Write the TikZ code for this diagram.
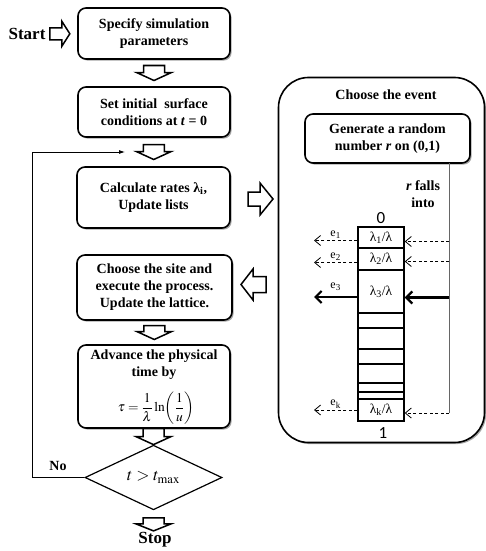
\documentclass[tikz,border=0pt]{standalone}
\usepackage{mathptmx}
\usepackage{fontspec}
\setmainfont{Liberation Serif}
\newfontfamily\calibrifont{Carlito}
\usetikzlibrary{shapes.geometric,shadows,arrows.meta,calc}
\newcommand\hollowarrow[6]{% #1 centre, #2 angle, #3 length, #4 head length, #5 shaft half width, #6 head half width
  \draw[harrow, shift={#1}, rotate=#2] ({#3/2},0) -- ({#3/2-#4},{#6}) -- ({#3/2-#4},{#5}) -- ({-#3/2},{#5})
    -- ({-#3/2},{-#5}) -- ({#3/2-#4},{-#5}) -- ({#3/2-#4},{-#6}) -- cycle;}
\begin{document}
\begin{tikzpicture}[x=1pt,y=-1pt,
  box/.style={draw, line width=1.6pt, rounded corners=8pt, fill=white,
    drop shadow={shadow xshift=1.6pt, shadow yshift=-1.6pt, opacity=0.35, fill=black},
    align=center, inner sep=0pt, font=\bfseries\fontsize{14}{17}\selectfont},
  lbl/.style={inner sep=0pt, align=center, font=\bfseries\fontsize{14}{17}\selectfont},
  harrow/.style={draw, line width=1.5pt, fill=white, line join=miter},
  cell/.style={draw, line width=1.4pt, minimum width=46pt, inner sep=0pt, font=\fontsize{13.5}{15}\selectfont},
  elbl/.style={inner sep=1.5pt, font=\fontsize{12}{14}\selectfont},
  darr/.style={line width=0.8pt, dash pattern=on 3pt off 2.5pt, -{Straight Barb[length=6pt,width=10pt,line width=0.8pt]}},
  tarr/.style={line width=2.6pt, -{Straight Barb[length=6pt,width=12pt,line width=2.2pt]}},
  vline/.style={draw=black!60, line width=1pt},
  loopline/.style={line width=0.8pt, -{Latex[length=6pt,width=4pt]}}
]
\useasboundingbox (0,0) rectangle (486,551);

% left flowchart
\node[lbl, font=\bfseries\fontsize{17}{20}\selectfont] (start) at (27,34) {Start};
\node[box, minimum width=152pt, minimum height=51pt] (b1) at (154,33.5) {Specify simulation\\parameters};
\node[box, minimum width=152pt, minimum height=50pt] (b2) at (154,112) {Set initial~ surface\\conditions at \textit{t} = 0};
\node[box, minimum width=153pt, minimum height=61pt] (b3) at (153.5,197.5) {Calculate rates λ\textsubscript{i},\\Update lists};
\node[box, minimum width=155pt, minimum height=65pt] (b4) at (154.5,287.5) {Choose the site and\\execute the process.\\Update the lattice.};
\node[box, minimum width=152pt, minimum height=83pt] (b5) at (154,386.5) {};
\node[lbl] (b5t) at (154,364.5) {Advance the physical\\time by};
\node[inner sep=0pt, font=\fontsize{13.5}{16}\selectfont] (b5f) at (156,408.5)
  {$\displaystyle \tau=\frac{1}{\lambda}\ln\!\left(\frac{1}{u}\right)$};
\node[draw, diamond, line width=1.2pt, minimum width=137pt, minimum height=59pt, inner sep=0pt] (d) at (153.5,477.5)
  {\fontsize{17}{20}\selectfont $t>t_{\max}$};
\node[lbl, font=\bfseries\fontsize{17}{20}\selectfont] (stop) at (155,540) {Stop};

% hollow arrows
\coordinate (aS) at ($(start.east)!0.45!(b1.west)$);
\coordinate (a12) at ($(b1.south)!0.5!(b2.north)$);
\coordinate (a23) at ($(b2.south)!0.5!(b3.north)$);
\coordinate (a45) at ($(b4.south)!0.5!(b5.north)$);
\coordinate (a5d) at ($(d.north)+(0,-8)$);
\coordinate (ads) at ($(d.south)+(0,14)$);
\hollowarrow{(aS)}{0}{20}{8}{6}{12.5}
\hollowarrow{(a12)}{-90}{15}{8}{10.5}{17.5}
\hollowarrow{(a23)}{-90}{15}{8}{10.5}{17.5}
\hollowarrow{(a45)}{-90}{14}{8}{10.5}{17.5}
\hollowarrow{(a5d)}{-90}{16}{8}{10.5}{17.5}
\hollowarrow{(ads)}{-90}{13}{7}{10.5}{17.5}

% loop back
\coordinate (lc) at (32,477.5);
\coordinate (lt) at (32,152);
\coordinate (le) at (125,152);
\draw[loopline] (d.west) -- (lc) -- (lt) -- (le);
\node[lbl] (no) at (58,466) {No};

% right panel
\node[box, rounded corners=30pt, minimum width=206pt, minimum height=365pt] (E) at (381.5,260) {};
\node[lbl] (ce) at (386,95) {Choose the event};
\node[box, minimum width=165pt, minimum height=49pt] (g) at (387.5,138.5) {Generate a random\\number \textit{r} on (0,1)};
\node[lbl] (rf) at (423,194) {\textit{r} falls\\into};

\coordinate (aE) at (260.5,199);
\coordinate (Ea) at (253.5,284.5);
\hollowarrow{(aE)}{0}{25}{13}{7}{16}
\hollowarrow{(Ea)}{180}{25}{12}{8}{15.5}

% column of cells
\node[cell, minimum height=21pt] (c1) at (381,237.5) {λ\textsubscript{1}/λ};
\node[cell, minimum height=22pt] (c2) at (381,259) {λ\textsubscript{2}/λ};
\node[cell, minimum height=43pt] (c3) at (381,291.5) {λ\textsubscript{3}/λ};
\node[cell, minimum height=15pt] (x1) at (381,320.5) {};
\node[cell, minimum height=21pt] (x2) at (381,338.5) {};
\node[cell, minimum height=15pt] (x3) at (381,356.5) {};
\node[cell, minimum height=19pt] (x4) at (381,373.5) {};
\node[cell, minimum height=9pt] (x5) at (381,387.5) {};
\node[cell, minimum height=7pt] (x6) at (381,395.5) {};
\node[cell, minimum height=22pt] (ck) at (381,410) {λ\textsubscript{k}/λ};
\node[inner sep=0pt, font=\calibrifont\fontsize{17}{20}\selectfont] (zero) at (381,218) {0};
\node[inner sep=0pt, font=\calibrifont\fontsize{17}{20}\selectfont] (one) at (383,433) {1};

% vertical grey line and arrows
\coordinate (vt) at (449,163);
\coordinate (vb) at (449,413);
\draw[vline] (vt) -- (vb);
\path (c1.east) ++(0,4) coordinate (c1r);
\path (c2.east) ++(0,2.5) coordinate (c2r);
\path (c3.east) ++(0,6) coordinate (c3r);
\path (ck.east) ++(0,3) coordinate (ckr);
\draw[darr] (c1r -| vt) -- (c1r);
\draw[darr] (c2r -| vt) -- (c2r);
\draw[tarr] (c3r -| vt) -- (c3r);
\draw[darr] (vb) -- (ckr);

\path (c1.west) ++(0,3) coordinate (c1l);
\path (c2.west) ++(0,3.5) coordinate (c2l);
\path (c3.west) ++(0,5.5) coordinate (c3l);
\path (ck.west) ++(0,0) coordinate (ckl);
\coordinate (lx) at (314,0);
\draw[darr] (c1l) -- (c1l -| lx) node[elbl, pos=0.5, above] {e\textsubscript{1}};
\draw[darr] (c2l) -- (c2l -| lx) node[elbl, pos=0.5, above] {e\textsubscript{2}};
\draw[tarr] (c3l) -- (c3l -| lx) node[elbl, pos=0.5, above=4pt] {e\textsubscript{3}};
\draw[darr] (ckl) -- (ckl -| lx) node[elbl, pos=0.5, above] {e\textsubscript{k}};
\end{tikzpicture}
\end{document}
